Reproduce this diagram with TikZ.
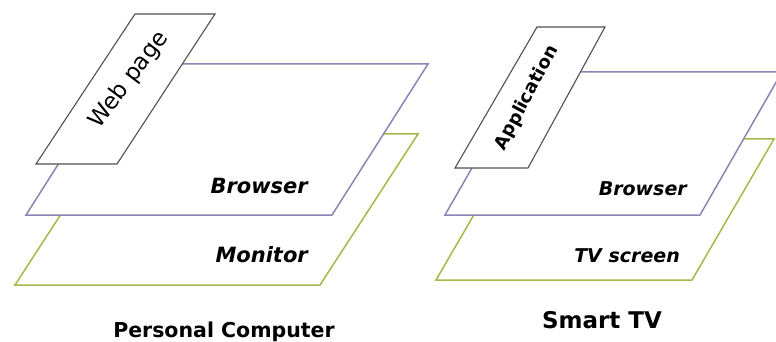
\documentclass[tikz,border=0pt]{standalone}
\usepackage{fontspec}
\setmainfont{DejaVu Sans}
\begin{document}
\begin{tikzpicture}[x=1pt,y=-1pt,
  browserplane/.style={draw={rgb,255:red,140;green,132;blue,182},line width=1.5pt,fill=white,line join=miter},
  screenplane/.style={draw={rgb,255:red,165;green,184;blue,72},line width=1.5pt,fill=white},
  topplane/.style={draw={rgb,255:red,80;green,80;blue,80},line width=1.1pt,fill=white},
  layerlabel/.style={font=\bfseries\itshape\fontsize{#1}{#1}\selectfont,anchor=base east,inner sep=0pt},
  title/.style={font=\bfseries\fontsize{#1}{#1}\selectfont,anchor=base,inner sep=0pt}]
\useasboundingbox (0,0) rectangle (776,342);
\clip (0,0) rectangle (776,342);
% Personal computer stack
\draw[screenplane] (15,285) -- (320,285) -- (418,134) -- (113,134) -- cycle;
\draw[browserplane] (26,215) -- (332,215) -- (428,64) -- (122,64) -- cycle;
\draw[topplane] (36,164) -- (117,164) -- (215,14) -- (135,14) -- cycle;
\node[font=\fontsize{23}{23}\selectfont,rotate=53,inner sep=0pt] (wp) at (129,80) {Web page};
\node[layerlabel=21] (pcb) at (308,193) {Browser};
\node[layerlabel=21] (pcm) at (308,262) {Monitor};
\node[title=20.5] (pc) at (224,337) {Personal Computer};
% Smart TV stack
\draw[screenplane] (436,280) -- (692,280) -- (774,139) -- (518,139) -- cycle;
\draw[browserplane] (445,215) -- (700,215) -- (782,72) -- (527,72) -- cycle;
\draw[topplane] (455,168) -- (528,168) -- (605,27) -- (537,27) -- cycle;
\node[font=\bfseries\fontsize{18}{18}\selectfont,rotate=62,inner sep=0pt] (app) at (527,98) {Application};
\node[layerlabel=19] (tvb) at (687,195) {Browser};
\node[layerlabel=19] (tvs) at (680,262) {TV screen};
\node[title=23] (tv) at (602,328) {Smart TV};
\end{tikzpicture}
\end{document}
